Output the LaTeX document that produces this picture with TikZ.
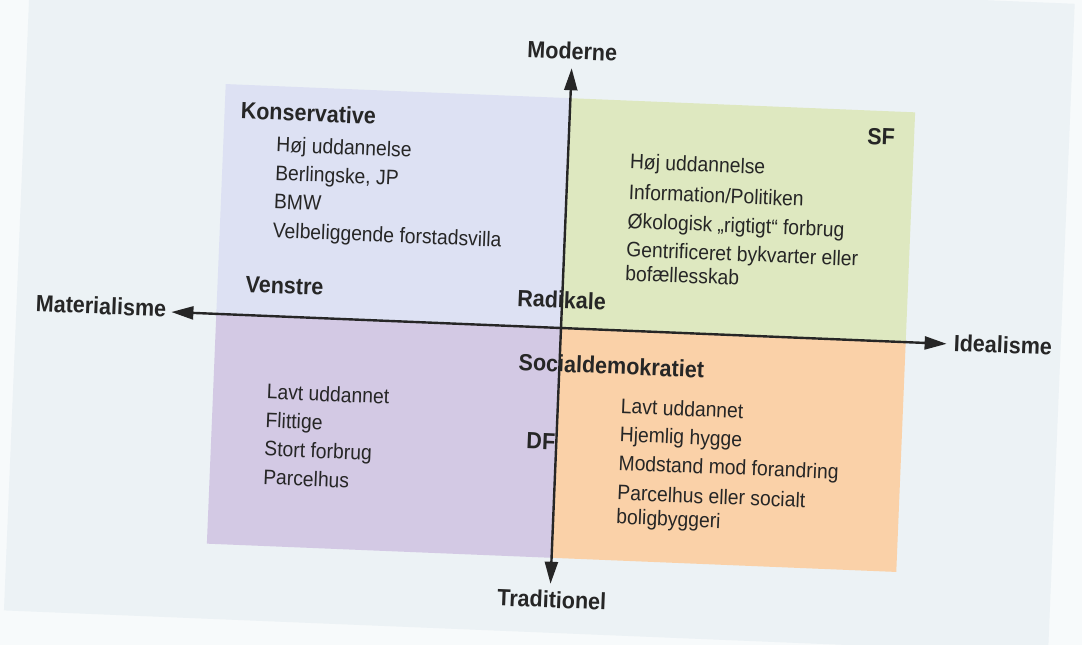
\documentclass[tikz,border=0pt]{standalone}
\usepackage{fontspec}
\setmainfont[FakeStretch=0.92]{Liberation Sans}
\usetikzlibrary{arrows.meta}
\definecolor{pagebg}{HTML}{ECF2F5}
\definecolor{ink}{HTML}{262626}
\definecolor{qblue}{HTML}{DDE1F3}
\definecolor{qgreen}{HTML}{DEE8C0}
\definecolor{qpurple}{HTML}{D3C9E4}
\definecolor{qorange}{HTML}{FAD1A8}
\begin{document}
\begin{tikzpicture}[x=1pt,y=-1pt,
  txt/.style={inner sep=0pt, text=ink, font=\fontsize{21}{24}\selectfont, anchor=base west, align=left},
  lbl/.style={inner sep=0pt, text=ink, font=\fontsize{23.4}{27}\selectfont\bfseries},
  axis/.style={draw=ink, line width=2.4pt, {Triangle[length=22pt,width=13pt]}-{Triangle[length=22pt,width=13pt]}},
]
\useasboundingbox (0,0) rectangle (1082,645);
\fill[white!60!pagebg] (0,0) rectangle (1082,645);
\begin{scope}[shift={(561,328)}, rotate=-2.35, transform shape]
  \fill[pagebg] (-545,-345) rectangle (500,305);
  % quadrants
  \fill[qblue]   (-345,-230) rectangle (0,0);
  \fill[qgreen]  (0,-230) rectangle (345,0);
  \fill[qpurple] (-345,0) rectangle (0,230);
  \fill[qorange] (0,0) rectangle (345,230);
  % axis labels
  \node[lbl, anchor=base] (mod) at (0,-269) {Moderne};
  \node[lbl, anchor=base] (trad) at (2,280) {Traditionel};
  \node[lbl, anchor=base east] (mat) at (-395,5) {Materialisme};
  \node[lbl, anchor=base west] (ideal) at (393,7) {Idealisme};
  % axes
  \coordinate (L) at (-390,0);
  \coordinate (R) at (386,0);
  \coordinate (T) at (0,-260);
  \coordinate (B) at (0,256);
  \draw[axis] (L) -- (R);
  \draw[axis] (T) -- (B);
  % party labels
  \node[lbl, anchor=base west] (kons) at (-329,-196) {Konservative};
  \node[lbl, anchor=base east] (sf) at (326,-196) {SF};
  \node[lbl, anchor=base west] (ven) at (-317,-23) {Venstre};
  \node[lbl, anchor=base west] (rad) at (-45,-20) {Radikale};
  \node[lbl, anchor=base west] (soc) at (-41,44) {Socialdemokratiet};
  \node[lbl, anchor=base west] (df) at (-30,122) {DF};
  % upper left list
  \node[txt] (ul1) at (-292,-164.5) {Høj uddannelse};
  \node[txt] (ul2) at (-292,-136) {Berlingske, JP};
  \node[txt] (ul3) at (-292,-107.5) {BMW};
  \node[txt] (ul4) at (-292,-78.5) {Velbeliggende forstadsvilla};
  % upper right list
  \node[txt] (ur1) at (62,-162) {Høj uddannelse};
  \node[txt] (ur2) at (62,-131.5) {Information/Politiken};
  \node[txt] (ur3) at (62,-102.5) {Økologisk „rigtigt“ forbrug};
  \node[txt] (ur4) at (62,-50) {Gentrificeret bykvarter eller\\bofællesskab};
  % lower left list
  \node[txt] (ll1) at (-291.5,83) {Lavt uddannet};
  \node[txt] (ll2) at (-291.5,111.5) {Flittige};
  \node[txt] (ll3) at (-291.5,140) {Stort forbrug};
  \node[txt] (ll4) at (-291.5,168.5) {Parcelhus};
  % lower right list
  \node[txt] (lr1) at (63,83) {Lavt uddannet};
  \node[txt] (lr2) at (63,111.3) {Hjemlig hygge};
  \node[txt] (lr3) at (63,139.6) {Modstand mod forandring};
  \node[txt] (lr4) at (63,193.5) {Parcelhus eller socialt\\boligbyggeri};
\end{scope}
\end{tikzpicture}
\end{document}
